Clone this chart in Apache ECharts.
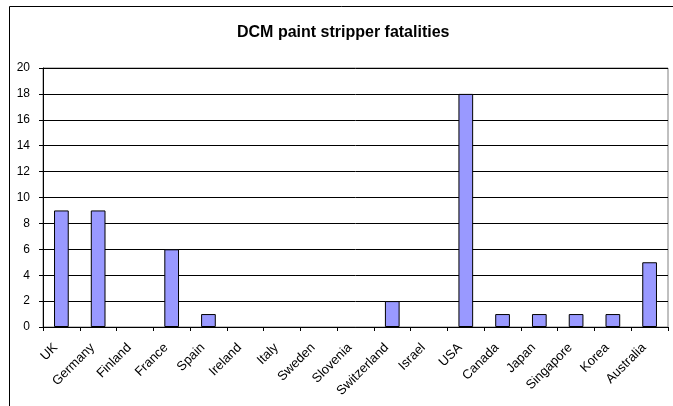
<!DOCTYPE html>
<html>
<head>
<meta charset="utf-8">
<script src="https://cdn.jsdelivr.net/npm/echarts@6/dist/echarts.min.js"></script>
<style>
  html, body { margin: 0; padding: 0; background: #fff; }
  #chart { width: 673px; height: 406px; }
</style>
</head>
<body>
<div id="chart"></div>
<script>
// Reported DCM paint stripper deaths by country
const countries = ['UK', 'Germany', 'Finland', 'France', 'Spain', 'Ireland', 'Italy', 'Sweden',
  'Slovenia', 'Switzerland', 'Israel', 'USA', 'Canada', 'Japan', 'Singapore', 'Korea', 'Australia'];
const fatalities = [9, 9, 0, 6, 1, 0, 0, 0, 0, 2, 0, 18, 1, 1, 1, 1, 5];
const yTicks = [0, 2, 4, 6, 8, 10, 12, 14, 16, 18, 20];

const font = 'Arial, "Liberation Sans", sans-serif';
const chart = echarts.init(document.getElementById('chart'));

// zero-valued bars get no outline so they leave no stub on the axis
const barData = fatalities.map(v => v === 0
  ? { value: v, itemStyle: { borderWidth: 0, color: 'transparent' } }
  : v);

chart.setOption({
  animation: false,
  backgroundColor: '#fff',
  title: {
    text: 'DCM paint stripper fatalities',
    left: 232,
    top: 20,
    textStyle: { fontFamily: font, fontSize: 16, fontWeight: 'bold', color: '#000' }
  },
  graphic: [{
    type: 'rect',
    shape: { x: 9.5, y: 6.5, width: 720, height: 460 },
    style: { fill: 'none', stroke: '#000', lineWidth: 1 },
    silent: true
  }],
  grid: {
    left: 43, right: 5, top: 68, bottom: 79,
    show: true, borderColor: '#808080', borderWidth: 1, backgroundColor: 'transparent'
  },
  xAxis: {
    type: 'category',
    data: countries,
    axisLine: { lineStyle: { color: '#000', width: 1 } },
    axisTick: { show: true, alignWithLabel: false, length: 4, lineStyle: { color: '#000' } },
    axisLabel: {
      interval: 0, rotate: 45, margin: 13, padding: [0, 8, 0, 0],
      fontFamily: font, fontSize: 13, color: '#000'
    }
  },
  yAxis: {
    type: 'value',
    min: yTicks[0],
    max: yTicks[yTicks.length - 1],
    interval: 2,
    axisLine: { show: true, lineStyle: { color: '#000', width: 1 } },
    axisTick: { show: true, length: 4, lineStyle: { color: '#000' } },
    axisLabel: { margin: 13, fontFamily: font, fontSize: 12, color: '#000' },
    splitLine: { show: true, lineStyle: { color: '#000', width: 1 } }
  },
  series: [{
    type: 'bar',
    data: barData,
    barCategoryGap: '60%',
    itemStyle: { color: '#9999FF', borderColor: '#000', borderWidth: 1 }
  }]
});
</script>
</body>
</html>
